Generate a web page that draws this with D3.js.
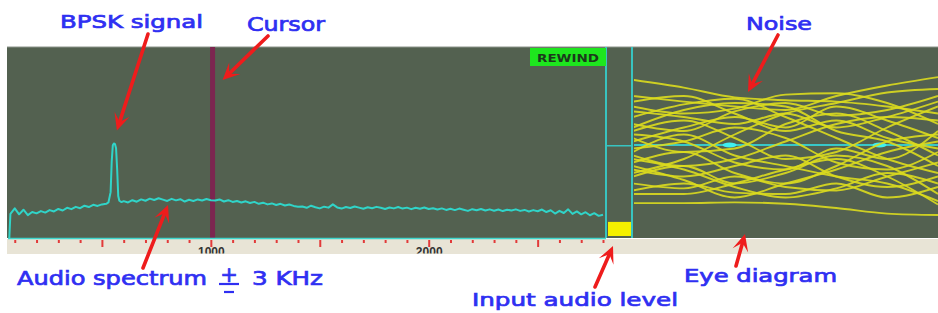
<!DOCTYPE html>
<html>
<head>
<meta charset="utf-8">
<script src="https://cdn.jsdelivr.net/npm/d3@7"></script>
<style>
  body { margin: 0; background: #fff; }
  svg { display: block; }
</style>
</head>
<body>
<div id="chart"></div>
<script>
// audio spectrum, Hz / relative level
const specHz = [
  75, 80, 100, 120, 140, 160, 180, 200, 220, 240, 260, 280, 300, 320, 340, 360, 380, 400, 420, 440, 460, 480, 500,
  520, 530, 540, 545, 550, 555, 560, 565, 570, 575, 580, 590,
  600, 620, 640, 660, 680, 700, 720, 740, 760, 780, 800, 820, 840, 860, 880, 900, 920, 940, 960, 980, 1000,
  1020, 1040, 1060, 1080, 1100, 1120, 1140, 1160, 1180, 1200, 1220, 1240, 1260, 1280, 1300, 1320, 1340, 1360, 1380, 1400,
  1420, 1440, 1460, 1480, 1500, 1520, 1540, 1560, 1580, 1600, 1620, 1640, 1660, 1680, 1700, 1720, 1740, 1760, 1780, 1800,
  1820, 1840, 1860, 1880, 1900, 1920, 1940, 1960, 1980, 2000,
  2020, 2040, 2060, 2080, 2100, 2120, 2140, 2160, 2180, 2200, 2220, 2240, 2260, 2280, 2300, 2320, 2340, 2360, 2380, 2400,
  2420, 2440, 2460, 2480, 2500,
  2520, 2540, 2560, 2580, 2600, 2620, 2640, 2660, 2680, 2700, 2720, 2740, 2760, 2780, 2800
];
const specLevel = [
  0, 12.6, 15.5, 12.4, 14.8, 12.0, 13.6, 12.9, 14.1, 13.3, 14.6, 13.9, 15.2, 14.4, 15.8, 15.1, 16.3, 15.6, 16.9, 16.2, 17.4, 16.8, 17.6,
  17.9, 18.6, 24.0, 40.0, 48.5, 49.5, 49.2, 47.0, 36.0, 22.0, 19.5, 18.8,
  19.3, 18.6, 19.8, 19.0, 20.2, 19.5, 20.6, 19.9, 20.8, 20.1, 19.4, 20.5, 19.7, 20.3, 19.1, 20.0, 19.4, 20.2, 19.6, 20.4, 19.8,
  19.6, 20.2, 19.1, 19.8, 18.9, 19.4, 18.6, 19.2, 18.3, 18.9, 17.9, 18.5, 17.6, 18.1, 17.3, 17.9, 17.0, 17.5, 16.8, 16.4,
  16.5, 15.8, 16.9, 16.1, 15.5, 16.4, 15.9, 17.6, 16.0, 15.4, 16.2, 15.7, 16.5, 15.9, 15.3, 16.1, 15.6, 16.3, 15.8, 15.2,
  16.0, 15.5, 16.2, 15.4, 15.9, 15.1, 15.8, 15.3, 16.0, 15.2,
  15.6, 14.9, 15.5, 14.7, 15.3, 14.6, 15.4, 14.8, 14.2, 15.1, 14.5, 15.2, 14.4, 15.0, 14.3, 14.9, 14.1, 14.8, 14.4, 15.0,
  14.2, 14.7, 13.9, 14.6, 14.0,
  14.9, 13.6, 14.5, 12.8, 14.2, 13.1, 15.0, 12.6, 13.9, 12.4, 13.5, 11.9, 13.0, 11.6, 12.2
];
const cursorHz = 1008;
const minorTicks = [100, 200, 300, 400, 600, 700, 800, 900, 1100, 1200, 1300, 1400, 1600, 1700, 1800, 1900,
  2100, 2200, 2300, 2400, 2600, 2700, 2800];
const majorTicks = [500, 1000, 1500, 2000, 2500];
const tickLabels = [1000, 2000];

// input level meter
const inputLevel = 7.5;
const meterMark = 48;

// eye diagram traces (amplitude at symbol-time columns)
const eyeTime = [0, 1, 2, 3, 4, 5, 6];
const eyeTraces = [
  [0.93, 0.82, 0.68, 0.64, 0.62, 0.55, 0.45],
  [0.70, 0.62, 0.55, 0.50, 0.70, 0.85, 0.97],
  [0.55, 0.45, 0.52, 0.72, 0.74, 0.60, 0.30],
  [0.40, 0.58, 0.66, 0.40, 0.10, -0.20, -0.40],
  [0.30, 0.20, 0.48, 0.60, 0.42, 0.50, 0.70],
  [0.20, 0.35, 0.10, -0.20, -0.10, 0.25, 0.55],
  [0.10, -0.10, -0.05, 0.30, 0.45, 0.20, -0.15],
  [-0.05, 0.05, 0.25, 0.10, -0.25, -0.35, -0.10],
  [-0.15, -0.30, -0.20, 0.05, 0.30, 0.40, 0.35],
  [-0.25, -0.10, -0.40, -0.55, -0.30, 0.05, 0.15],
  [-0.35, -0.45, -0.30, -0.15, -0.45, -0.60, -0.45],
  [-0.45, -0.30, -0.55, -0.40, -0.15, -0.30, -0.70],
  [-0.55, -0.62, -0.45, -0.60, -0.65, -0.45, -0.25],
  [-0.65, -0.55, -0.68, -0.70, -0.55, -0.75, -0.60],
  [-0.83, -0.83, -0.82, -0.84, -0.90, -0.98, -1.00],
  [0.05, 0.25, 0.40, 0.25, 0.55, 0.35, 0.10],
  [0.62, 0.70, 0.45, 0.20, 0.35, 0.10, -0.05],
  [-0.20, -0.35, -0.60, -0.75, -0.62, -0.40, -0.55],
  [0.15, 0.05, -0.25, -0.35, -0.05, -0.20, 0.20],
  [-0.40, -0.20, 0.15, 0.45, 0.60, 0.75, 0.80],
  [0.48, 0.40, 0.30, 0.45, 0.25, 0.40, 0.62],
  [-0.10, 0.15, -0.15, -0.30, -0.45, -0.55, -0.80],
  [0.25, 0.50, 0.60, 0.55, 0.20, 0.05, -0.30],
  [-0.30, -0.50, -0.75, -0.55, -0.35, -0.10, 0.05],
  [-0.70, -0.70, -0.55, -0.35, -0.20, -0.45, -0.85]
];
const eyeDots = [1.9, 4.85];

const W = 938, H = 313;
const panelTop = 47, panelBottom = 238;

const svg = d3.select("#chart").append("svg")
  .attr("width", W).attr("height", H)
  .style("font-family", "'DejaVu Sans', Verdana, sans-serif");

const x = d3.scaleLinear().domain([80, 2800]).range([10.4, 603]);
const y = d3.scaleLinear().domain([0, 100]).range([panelBottom, panelTop]);
const ex = d3.scaleLinear().domain([0, 6]).range([633, 938]);
const ey = d3.scaleLinear().domain([-1, 1]).range([215, 75]);
const my = d3.scaleLinear().domain([0, 100]).range([236, 48]);

// background panel + ruler band
svg.append("rect").attr("x", 7).attr("y", panelTop).attr("width", W - 7).attr("height", panelBottom - panelTop)
  .attr("fill", "#536150");
svg.append("line").attr("x1", 7).attr("x2", W).attr("y1", panelTop).attr("y2", panelTop)
  .attr("stroke", "#8c948a").attr("stroke-width", 1);
svg.append("rect").attr("x", 7).attr("y", panelBottom + 1).attr("width", W - 7).attr("height", 15)
  .attr("fill", "#e8e4d6");

// cursor
svg.append("rect").attr("x", x(cursorHz) - 2.5).attr("y", panelTop).attr("width", 5).attr("height", panelBottom - panelTop)
  .attr("fill", "#7c2550");

// spectrum trace
const line = d3.line().x((d, i) => x(specHz[i])).y(d => y(d));
svg.append("path").datum(specLevel)
  .attr("d", line)
  .attr("fill", "none")
  .attr("stroke", "#30d4c8")
  .attr("stroke-width", 2)
  .attr("stroke-linejoin", "round");

// baseline
svg.append("line").attr("x1", 8).attr("x2", 606).attr("y1", panelBottom + 0.5).attr("y2", panelBottom + 0.5)
  .attr("stroke", "#3fd6cc").attr("stroke-width", 1.5);

// ruler axis (clip rect is in the axis group's own coordinates)
svg.append("clipPath").attr("id", "rulerClip")
  .append("rect").attr("x", -10).attr("y", -1).attr("width", W + 20).attr("height", 15.5);
const axis = svg.append("g")
  .attr("transform", `translate(0,${panelBottom + 1})`)
  .attr("clip-path", "url(#rulerClip)")
  .call(d3.axisBottom(x)
    .tickValues(minorTicks.concat(majorTicks))
    .tickSize(3)
    .tickFormat(d => tickLabels.includes(d) ? d : ""));
axis.select(".domain").remove();
axis.selectAll(".tick line")
  .attr("stroke", "#e23a3a").attr("stroke-width", 2)
  .attr("y1", 1)
  .attr("y2", d => majorTicks.includes(d) ? 8 : 4);
axis.selectAll(".tick text")
  .attr("y", 17).attr("dy", 0)
  .attr("fill", "#333").attr("font-size", 12).attr("font-weight", "bold");

// input level meter
svg.append("rect").attr("x", 608).attr("y", my(inputLevel)).attr("width", 23)
  .attr("height", my(0) - my(inputLevel)).attr("fill", "#f4f000");
[606, 632].forEach(v => svg.append("line").attr("x1", v).attr("x2", v)
  .attr("y1", panelTop).attr("y2", panelBottom).attr("stroke", "#38c4c0").attr("stroke-width", 2));
svg.append("line").attr("x1", 606).attr("x2", 633).attr("y1", my(meterMark)).attr("y2", my(meterMark))
  .attr("stroke", "#38c4c0").attr("stroke-width", 1.5);

// REWIND label
svg.append("rect").attr("x", 530).attr("y", 48).attr("width", 76).attr("height", 18).attr("fill", "#1ee61e");
svg.append("text").attr("x", 568).attr("y", 62).attr("text-anchor", "middle")
  .attr("font-size", 11).attr("font-weight", "bold").attr("fill", "#1c3a1c")
  .attr("textLength", 62).attr("lengthAdjust", "spacingAndGlyphs").text("REWIND");

// eye diagram
svg.append("clipPath").attr("id", "eyeClip")
  .append("rect").attr("x", 634).attr("y", panelTop).attr("width", W - 634).attr("height", panelBottom - panelTop);
const eye = svg.append("g").attr("clip-path", "url(#eyeClip)");
eye.append("line").attr("x1", 633).attr("x2", W).attr("y1", ey(0)).attr("y2", ey(0))
  .attr("stroke", "#38c8c8").attr("stroke-width", 2);
eye.selectAll(".dot").data(eyeDots).join("ellipse")
  .attr("cx", d => ex(d)).attr("cy", ey(0)).attr("rx", 7).attr("ry", 2.6)
  .attr("fill", "#3ff0f0");
const eyeLine = d3.line().x((d, i) => ex(eyeTime[i])).y(d => ey(d)).curve(d3.curveMonotoneX);
eye.selectAll(".trace").data(eyeTraces).join("path")
  .attr("d", eyeLine)
  .attr("fill", "none")
  .attr("stroke", "#dcdc1e")
  .attr("stroke-width", 1.9)
  .attr("opacity", 0.9);

// annotations
const blue = "#2f2ff2";
const labels = [
  { t: "BPSK signal", x: 60, y: 28, w: 143, s: 18 },
  { t: "Cursor", x: 247, y: 31, w: 78, s: 19 },
  { t: "Noise", x: 746, y: 30, w: 66, s: 18 },
  { t: "Audio spectrum", x: 17, y: 285, w: 190, s: 19 },
  { t: "3 KHz", x: 252, y: 285, w: 71, s: 19 },
  { t: "Eye diagram", x: 684, y: 282, w: 153, s: 18 },
  { t: "Input audio level", x: 472, y: 306, w: 206, s: 18 }
];
svg.selectAll(".lbl").data(labels).join("text")
  .attr("x", d => d.x).attr("y", d => d.y)
  .attr("font-size", d => d.s)
  .attr("fill", blue).attr("stroke", blue).attr("stroke-width", 0.7)
  .attr("textLength", d => d.w).attr("lengthAdjust", "spacingAndGlyphs")
  .text(d => d.t);
// plus-minus sign
svg.append("text").attr("x", 229).attr("y", 282).attr("text-anchor", "middle")
  .attr("font-size", 21).attr("fill", blue).attr("stroke", blue).attr("stroke-width", 0.7).text("+");
svg.append("line").attr("x1", 219).attr("x2", 239).attr("y1", 284).attr("y2", 284)
  .attr("stroke", blue).attr("stroke-width", 2.2);
svg.append("line").attr("x1", 224).attr("x2", 234).attr("y1", 292).attr("y2", 292)
  .attr("stroke", blue).attr("stroke-width", 2.2);

// red arrows: tail -> tip
const peakI = specLevel.indexOf(d3.max(specLevel));
const arrows = [
  { x1: 148, y1: 34, x2: x(specHz[peakI]) + 3, y2: y(specLevel[peakI]) - 13 },
  { x1: 268, y1: 36, x2: x(cursorHz) + 10, y2: 80 },
  { x1: 778, y1: 35, x2: 748, y2: 92 },
  { x1: 143, y1: 268, x2: 168, y2: 205 },
  { x1: 595, y1: 287, x2: 613, y2: 246 },
  { x1: 736, y1: 266, x2: 745, y2: 234 }
];
const red = "#ee1c1c";
arrows.forEach(a => {
  const ang = Math.atan2(a.y2 - a.y1, a.x2 - a.x1);
  const ca = Math.cos(ang), sa = Math.sin(ang);
  const p = (l, w) => [a.x2 - l * ca - w * sa, a.y2 - l * sa + w * ca];
  const notch = p(9, 0);
  svg.append("line").attr("x1", a.x1).attr("y1", a.y1).attr("x2", notch[0]).attr("y2", notch[1])
    .attr("stroke", red).attr("stroke-width", 3.6).attr("stroke-linecap", "round");
  svg.append("path")
    .attr("d", "M" + [[a.x2, a.y2], p(17, 8), notch, p(17, -8)].map(q => q.join(",")).join("L") + "Z")
    .attr("fill", red);
});
</script>
</body>
</html>
